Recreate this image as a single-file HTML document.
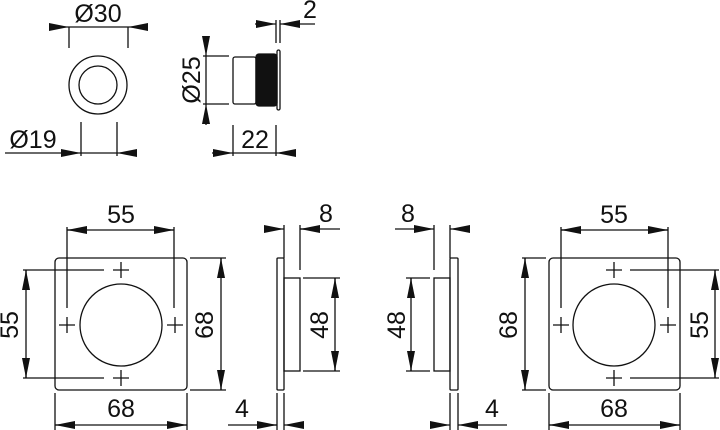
<!DOCTYPE html>
<html><head><meta charset="utf-8"><style>
html,body{margin:0;padding:0;background:#fff;width:720px;height:430px;overflow:hidden}
text{font-family:"Liberation Sans",sans-serif;font-size:25px;fill:#111}
</style></head><body>
<svg width="720" height="430" viewBox="0 0 720 430" xmlns="http://www.w3.org/2000/svg">
<defs>
<marker id="a" markerWidth="20" markerHeight="8" refX="20" refY="4" orient="auto" markerUnits="userSpaceOnUse"><path d="M0,0 L20,4 L0,8z" fill="#111"/></marker>
</defs>
<g stroke="#111" stroke-width="1.3" fill="none">
<circle cx="98" cy="85" r="29"/><circle cx="98" cy="85" r="19"/>
<line x1="69" y1="27" x2="69" y2="48"/><line x1="128" y1="27" x2="128" y2="48"/>
<line x1="50" y1="27" x2="69" y2="27" marker-end="url(#a)"/>
<line x1="148" y1="27" x2="128" y2="27" marker-end="url(#a)"/>
<line x1="69" y1="27" x2="128" y2="27"/>
<line x1="81" y1="122" x2="81" y2="156"/><line x1="117" y1="122" x2="117" y2="156"/>
<line x1="5" y1="153" x2="81" y2="153" marker-end="url(#a)"/>
<line x1="137" y1="153" x2="117" y2="153" marker-end="url(#a)"/>
<line x1="81" y1="153" x2="117" y2="153"/>
<rect x="233" y="57" width="23" height="47" rx="2"/>
<rect x="256" y="54" width="21" height="52" rx="3" fill="#111"/>
<rect x="277" y="50" width="3" height="60" rx="1.5"/>
<line x1="203" y1="56" x2="229" y2="56"/><line x1="203" y1="104" x2="229" y2="104"/>
<line x1="206" y1="36" x2="206" y2="56" marker-end="url(#a)"/>
<line x1="206" y1="125" x2="206" y2="104" marker-end="url(#a)"/>
<line x1="206" y1="56" x2="206" y2="104"/>
<line x1="233" y1="125" x2="233" y2="156"/><line x1="276" y1="125" x2="276" y2="156"/>
<line x1="212" y1="153" x2="233" y2="153" marker-end="url(#a)"/>
<line x1="296" y1="153" x2="276" y2="153" marker-end="url(#a)"/>
<line x1="233" y1="153" x2="276" y2="153"/>
<line x1="276" y1="20" x2="276" y2="43"/><line x1="280" y1="20" x2="280" y2="43"/>
<line x1="255" y1="24" x2="276" y2="24" marker-end="url(#a)"/>
<line x1="300" y1="24" x2="280" y2="24" marker-end="url(#a)"/>
<line x1="298" y1="24" x2="315" y2="24"/>

<rect x="55" y="258" width="132" height="132" rx="4"/>
<circle cx="121" cy="325" r="41"/>
<path d="M113,270h16M121,262v16 M59,325h16M67,317v16 M167,325h16M175,317v16 M113,378h16M121,370v16"/>
<line x1="67" y1="227" x2="67" y2="308"/><line x1="174" y1="227" x2="174" y2="308"/>
<line x1="67" y1="230" x2="174" y2="230"/>
<line x1="87" y1="230" x2="67" y2="230" marker-end="url(#a)"/>
<line x1="154" y1="230" x2="174" y2="230" marker-end="url(#a)"/>
<line x1="23" y1="270" x2="104" y2="270"/><line x1="23" y1="378" x2="104" y2="378"/>
<line x1="26" y1="270" x2="26" y2="378"/>
<line x1="26" y1="290" x2="26" y2="270" marker-end="url(#a)"/>
<line x1="26" y1="358" x2="26" y2="378" marker-end="url(#a)"/>
<line x1="190" y1="258" x2="226" y2="258"/><line x1="190" y1="390" x2="226" y2="390"/>
<line x1="221" y1="258" x2="221" y2="390"/>
<line x1="221" y1="278" x2="221" y2="258" marker-end="url(#a)"/>
<line x1="221" y1="370" x2="221" y2="390" marker-end="url(#a)"/>
<line x1="55" y1="393" x2="55" y2="430"/><line x1="187" y1="393" x2="187" y2="430"/>
<line x1="55" y1="425" x2="187" y2="425"/>
<line x1="75" y1="425" x2="55" y2="425" marker-end="url(#a)"/>
<line x1="167" y1="425" x2="187" y2="425" marker-end="url(#a)"/>

<rect x="277" y="258" width="7" height="132" rx="1"/>
<rect x="284" y="278" width="16" height="93"/>
<line x1="284" y1="225" x2="284" y2="258"/><line x1="300" y1="225" x2="300" y2="270"/>
<line x1="264" y1="229" x2="284" y2="229" marker-end="url(#a)"/>
<line x1="340" y1="229" x2="300" y2="229"/>
<line x1="320" y1="229" x2="300" y2="229" marker-end="url(#a)"/>
<line x1="303" y1="278" x2="340" y2="278"/><line x1="303" y1="371" x2="340" y2="371"/>
<line x1="335" y1="278" x2="335" y2="371"/>
<line x1="335" y1="298" x2="335" y2="278" marker-end="url(#a)"/>
<line x1="335" y1="351" x2="335" y2="371" marker-end="url(#a)"/>
<line x1="277" y1="393" x2="277" y2="430"/><line x1="284" y1="393" x2="284" y2="430"/>
<line x1="228" y1="425" x2="277" y2="425"/>
<line x1="257" y1="425" x2="277" y2="425" marker-end="url(#a)"/>
<line x1="304" y1="425" x2="284" y2="425" marker-end="url(#a)"/>

<rect x="450" y="258" width="8" height="132" rx="1"/>
<rect x="434" y="278" width="16" height="93"/>
<line x1="434" y1="225" x2="434" y2="270"/><line x1="450" y1="225" x2="450" y2="258"/>
<line x1="395" y1="229" x2="434" y2="229" marker-end="url(#a)"/>
<line x1="470" y1="229" x2="450" y2="229" marker-end="url(#a)"/>
<line x1="406" y1="278" x2="430" y2="278"/><line x1="406" y1="371" x2="430" y2="371"/>
<line x1="411" y1="278" x2="411" y2="371"/>
<line x1="411" y1="298" x2="411" y2="278" marker-end="url(#a)"/>
<line x1="411" y1="351" x2="411" y2="371" marker-end="url(#a)"/>
<line x1="450" y1="393" x2="450" y2="430"/><line x1="458" y1="393" x2="458" y2="430"/>
<line x1="430" y1="425" x2="450" y2="425" marker-end="url(#a)"/>
<line x1="478" y1="425" x2="458" y2="425" marker-end="url(#a)"/>
<line x1="476" y1="425" x2="507" y2="425"/>

<rect x="549" y="258" width="131" height="132" rx="4"/>
<circle cx="614" cy="325" r="41"/>
<path d="M606,270h16M614,262v16 M553,325h16M561,317v16 M660,325h16M668,317v16 M606,378h16M614,370v16"/>
<line x1="561" y1="227" x2="561" y2="308"/><line x1="668" y1="227" x2="668" y2="308"/>
<line x1="561" y1="230" x2="668" y2="230"/>
<line x1="581" y1="230" x2="561" y2="230" marker-end="url(#a)"/>
<line x1="648" y1="230" x2="668" y2="230" marker-end="url(#a)"/>
<line x1="630" y1="270" x2="719" y2="270"/><line x1="630" y1="378" x2="719" y2="378"/>
<line x1="715" y1="270" x2="715" y2="378"/>
<line x1="715" y1="290" x2="715" y2="270" marker-end="url(#a)"/>
<line x1="715" y1="358" x2="715" y2="378" marker-end="url(#a)"/>
<line x1="522" y1="258" x2="546" y2="258"/><line x1="522" y1="390" x2="546" y2="390"/>
<line x1="525" y1="258" x2="525" y2="390"/>
<line x1="525" y1="278" x2="525" y2="258" marker-end="url(#a)"/>
<line x1="525" y1="370" x2="525" y2="390" marker-end="url(#a)"/>
<line x1="549" y1="393" x2="549" y2="430"/><line x1="680" y1="393" x2="680" y2="430"/>
<line x1="549" y1="425" x2="680" y2="425"/>
<line x1="569" y1="425" x2="549" y2="425" marker-end="url(#a)"/>
<line x1="660" y1="425" x2="680" y2="425" marker-end="url(#a)"/>
</g>
<g>
<text x="98" y="22" text-anchor="middle">Ø30</text>
<text x="33" y="148" text-anchor="middle">Ø19</text>
<text x="255" y="148" text-anchor="middle">22</text>
<text x="310" y="18" text-anchor="middle">2</text>
<text transform="translate(200,80) rotate(-90)" text-anchor="middle">Ø25</text>
<text x="121" y="223" text-anchor="middle">55</text>
<text x="121" y="417" text-anchor="middle">68</text>
<text transform="translate(18,325) rotate(-90)" text-anchor="middle">55</text>
<text transform="translate(213,325) rotate(-90)" text-anchor="middle">68</text>
<text x="326" y="222" text-anchor="middle">8</text>
<text transform="translate(328,325) rotate(-90)" text-anchor="middle">48</text>
<text x="242" y="417" text-anchor="middle">4</text>
<text x="408" y="222" text-anchor="middle">8</text>
<text transform="translate(405,325) rotate(-90)" text-anchor="middle">48</text>
<text x="492" y="417" text-anchor="middle">4</text>
<text x="614" y="223" text-anchor="middle">55</text>
<text x="614" y="417" text-anchor="middle">68</text>
<text transform="translate(517,325) rotate(-90)" text-anchor="middle">68</text>
<text transform="translate(708,325) rotate(-90)" text-anchor="middle">55</text>
</g>
</svg>
</body></html>
